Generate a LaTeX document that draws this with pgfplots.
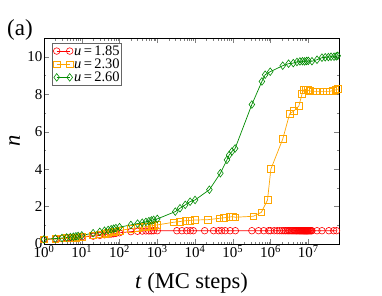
\documentclass[border=0pt]{standalone}
\usepackage{fontspec}
\setmainfont{Liberation Serif}
\usepackage{pgfplots}
\pgfplotsset{compat=1.18}
\definecolor{gred}{RGB}{255,0,0}
\definecolor{gorange}{RGB}{255,165,0}
\definecolor{ggreen}{RGB}{0,139,0}
\begin{document}
\begin{tikzpicture}[x=1pt,y=1pt]
\useasboundingbox (0,0) rectangle (382,295);
\node[font=\fontsize{23}{25}\selectfont] at (20,265.5) {(a)};
\begin{axis}[
  at={(44pt,51pt)}, anchor=south west,
  scale only axis, width=295pt, height=206pt,
  xmode=log, xmin=1, xmax=6.5e7, ymin=0, ymax=11,
  xtick={1,10,100,1000,10000,100000,1000000,10000000},
  xticklabels={10\textsuperscript{0},10\textsuperscript{1},10\textsuperscript{2},10\textsuperscript{3},10\textsuperscript{4},10\textsuperscript{5},10\textsuperscript{6},10\textsuperscript{7}},
  ytick={0,2,4,6,8,10}, minor ytick={1,3,5,7,9},
  /pgf/number format/assume math mode=true,
  tick label style={font=\fontsize{15}{17}\selectfont},
  xticklabel style={yshift=2pt},
  yticklabel style={xshift=2pt},
  major tick length=5pt, minor tick length=2.5pt,
  axis line style={line width=0.8pt},
  xlabel={\textit{t} (MC steps)}, ylabel={\textit{n}},
  label style={font=\fontsize{22.5}{24}\selectfont},
  xlabel style={at={(axis description cs:0.5,0)}, anchor=base, yshift=-44pt},
  ylabel style={at={(axis description cs:-0.1,0.5)}, anchor=center},
  legend style={at={(0.027,0.975)}, anchor=north west, font=\fontsize{14.5}{15}\selectfont,
    draw=black!60, line width=0.7pt, inner sep=1pt, row sep=0pt,
    nodes={inner sep=1pt}},
  legend cell align=left,
  legend image code/.code={\draw[mark repeat=1] plot coordinates {(0pt,0pt) (13pt,0pt)};},
  every axis plot/.append style={line width=0.7pt, mark options={solid, line width=0.6pt, fill=none}},
]
\addplot[color=gred, mark=o, mark size=3.3pt] coordinates {
(1,0.25) (2,0.27) (3,0.29) (4,0.31) (5,0.32) (6,0.33) (7,0.34) (8,0.35) (10,0.37)
(20,0.42) (30,0.46) (40,0.49) (50,0.51) (60,0.53) (70,0.55) (80,0.57) (100,0.60)
(200,0.66) (300,0.68) (400,0.69) (500,0.70) (600,0.70) (700,0.70) (800,0.71) (1000,0.71)
(3300,0.71) (4500,0.71) (6000,0.71) (7500,0.71) (9000,0.71)
(18000,0.71) (31000,0.71) (42000,0.71) (51000,0.71) (63000,0.71) (85000,0.71) (117000,0.71)
(320000,0.71) (480000,0.71) (660000,0.71) (890000,0.71)
(1000000,0.71) (1250000,0.71) (1500000,0.71) (1750000,0.71) (2000000,0.71) (2250000,0.71)
(2500000,0.71) (2750000,0.71) (3000000,0.71) (3250000,0.71) (3500000,0.71) (3750000,0.71)
(4000000,0.71) (4250000,0.71) (4500000,0.71) (4750000,0.71) (5000000,0.71) (5250000,0.71)
(5500000,0.71) (5750000,0.71) (6000000,0.71) (6250000,0.71) (6500000,0.71) (6750000,0.71)
(7000000,0.71) (7250000,0.71) (7500000,0.71) (7750000,0.71) (8000000,0.71) (8250000,0.71)
(8500000,0.71) (8750000,0.71) (9000000,0.71) (9250000,0.71) (9500000,0.71) (9750000,0.71)
(10000000,0.71) (10500000,0.71) (11000000,0.71) (11500000,0.71) (12000000,0.71) (12500000,0.71)
(17000000,0.71) (23000000,0.71) (35000000,0.71) (47000000,0.71) (56000000,0.71)
};
\addlegendentry{\textit{u}\,=\,1.85}
\addplot[color=gorange, mark=square, mark size=3.4pt] coordinates {
(1,0.25) (2,0.28) (3,0.30) (4,0.32) (5,0.33) (6,0.34) (7,0.35) (8,0.36) (10,0.38)
(20,0.46) (30,0.52) (40,0.56) (50,0.60) (60,0.63) (70,0.66) (80,0.68) (100,0.72)
(200,0.82) (300,0.87) (400,0.90) (500,0.93) (600,0.95) (700,0.97) (800,0.99) (1000,1.02)
(2700,1.16) (4000,1.20) (5500,1.24) (7400,1.26) (10000,1.28)
(22000,1.30) (44000,1.37) (59000,1.40) (81000,1.44) (98000,1.46) (117000,1.43)
(350000,1.48) (570000,1.69) (830000,2.35) (1020000,4.0) (2100000,5.6) (3200000,6.95)
(4100000,7.1) (5600000,7.36) (6800000,8.0) (7600000,8.23) (8500000,8.25) (9500000,8.22)
(11000000,8.17) (13000000,8.15) (16000000,8.15) (20000000,8.15) (25000000,8.15)
(30000000,8.15) (37000000,8.15) (45000000,8.2) (52000000,8.22) (60000000,8.27)
};
\addlegendentry{\textit{u}\,=\,2.30}
\addplot[color=ggreen, mark=diamond, mark size=3.8pt] coordinates {
(1,0.25) (2,0.29) (3,0.32) (4,0.35) (5,0.37) (6,0.39) (7,0.41) (8,0.43) (10,0.46)
(20,0.58) (30,0.65) (40,0.71) (50,0.75) (60,0.79) (70,0.82) (80,0.85) (100,0.90)
(200,1.02) (300,1.09) (400,1.14) (500,1.18) (600,1.22) (700,1.26) (800,1.29) (1000,1.34)
(3000,1.73) (4000,1.91) (5500,2.09) (7400,2.26) (10000,2.35)
(24000,2.9) (47000,3.78) (70000,4.49) (80000,4.75) (95000,4.94) (115000,5.1)
(320000,7.45) (590000,8.68) (720000,9.04) (980000,9.2) (2100000,9.52) (3000000,9.63)
(4000000,9.66) (5000000,9.72) (6000000,9.75) (7000000,9.76) (8000000,9.75) (9000000,9.77)
(10000000,9.78) (12500000,9.76) (17000000,9.84) (23000000,9.95) (28000000,9.97)
(34000000,9.98) (40000000,10.0) (48000000,10.0) (55000000,10.02) (60000000,10.05)
};
\addlegendentry{\textit{u}\,=\,2.60}
\end{axis}
\end{tikzpicture}
\end{document}
